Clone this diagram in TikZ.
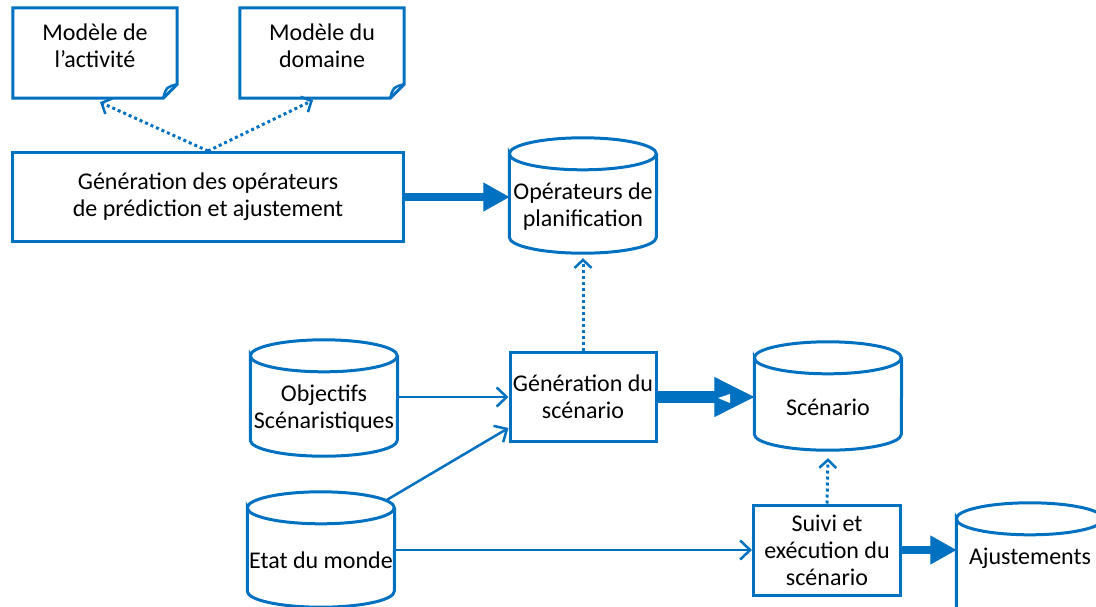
\documentclass[tikz,border=0pt]{standalone}
\usepackage{fontspec}
\setmainfont{Carlito}
\usetikzlibrary{arrows.meta}
\definecolor{diagblue}{RGB}{0,112,192}
\tikzset{
  box/.style={draw=diagblue, line width=3pt, align=center, inner sep=2pt},
  db/.style={align=center, inner sep=0pt, minimum width=147pt},
  doc/.style={align=center, minimum width=164pt, minimum height=76pt},
  flow/.style={diagblue, line width=2.5pt, -{Straight Barb[length=10pt,width=19pt]}},
  uses/.style={diagblue, line width=3pt, dash pattern=on 3pt off 3pt, -{Straight Barb[length=8pt,width=17pt,line width=2.5pt]}},
  bigflow/.style={diagblue, line width=8pt, -{Triangle[length=26pt,width=29pt,line width=1pt]}},
  docframe/.pic={
    \draw[diagblue, line width=3pt] (#1.north west) -- (#1.north east) -- (#1.south east) -- ([xshift=-14pt,yshift=-14pt]#1.south east) -- ([yshift=-14pt]#1.south west) -- cycle;
    \draw[diagblue, line width=2.5pt] (#1.south east) .. controls ([xshift=-11pt,yshift=-3pt]#1.south east) .. ([xshift=-14pt,yshift=-14pt]#1.south east);
  },
  dbframe/.pic={
    \draw[diagblue, line width=3pt] ([yshift=6pt]#1.north west) arc[start angle=180, end angle=-180, x radius=73.5pt, y radius=16pt]
      -- ([yshift=16pt]#1.south west) arc[start angle=180, end angle=360, x radius=73.5pt, y radius=16pt] -- ([yshift=6pt]#1.north east);
  },
  dbopen/.pic={
    \draw[diagblue, line width=3pt] ([yshift=6pt]#1.north west) arc[start angle=180, end angle=-180, x radius=73.5pt, y radius=16pt]
      -- ([yshift=-30pt]#1.south west) ([yshift=6pt]#1.north east) -- ([yshift=-30pt]#1.south east);
  }
}
\begin{document}
\begin{tikzpicture}[x=1pt, y=-1pt, font=\fontsize{24}{27}\selectfont]
  \useasboundingbox (0,0) rectangle (1096,606);
  % models
  \node[doc] (act) at (95,46) {Modèle de\\l’activité};
  \node[doc] (dom) at (322,46) {Modèle du\\domaine};
  \pic {docframe=act};
  \pic {docframe=dom};
  \node[box, minimum width=391pt, minimum height=89pt] (gops) at (208,197) {Génération des opérateurs\\de prédiction et ajustement};
  \node[db, minimum height=93pt] (ops) at (583,206.5) {Opérateurs de\\planification};
  \pic {dbframe=ops};
  % scenario generation
  \node[box, minimum width=146pt, minimum height=89pt] (gens) at (583,397) {Génération du\\scénario};
  \node[db, minimum height=94pt] (obj) at (324,409) {Objectifs\\Scénaristiques};
  \node[db, minimum height=93pt] (etat) at (321,560.5) {Etat du monde};
  \node[db, minimum height=86pt] (scn) at (828,407) {Scénario};
  \node[box, minimum width=147pt, minimum height=90pt] (suivi) at (827,550) {Suivi et\\exécution du\\scénario};
  \node[db, minimum height=66pt] (ajust) at (1030,558) {Ajustements};
  \pic {dbframe=obj};
  \pic {dbframe=etat};
  \pic {dbframe=scn};
  \pic {dbopen=ajust};
  % arrows
  \draw[uses] (gops.north) -- ([xshift=5pt,yshift=-18pt]act.south);
  \draw[uses] (gops.north) -- ([xshift=-9pt,yshift=-16pt]dom.south);
  \draw[bigflow] (gops.east) -- (gops.east -| ops.west);
  \draw[uses] (gens.north) -- ([yshift=-5pt]ops.south);
  \draw[flow] (obj.east |- gens.west) -- (gens.west);
  \draw[flow] ([xshift=66pt,yshift=14pt]etat.north) -- ([yshift=15pt]gens.south west);
  \draw[flow] (etat.east |- suivi.west) -- (suivi.west);
  \draw[bigflow, line width=12pt, -{Triangle[length=40pt,width=40pt,line width=1pt]}] (gens.east) -- (gens.east -| scn.west);
  \fill[white] (718,398) -- (730,394) -- (730,403) -- cycle;
  \draw[uses] (suivi.north) -- ([yshift=-8pt]scn.south);
  \draw[bigflow] (suivi.east) -- (suivi.east -| ajust.west);
\end{tikzpicture}
\end{document}
